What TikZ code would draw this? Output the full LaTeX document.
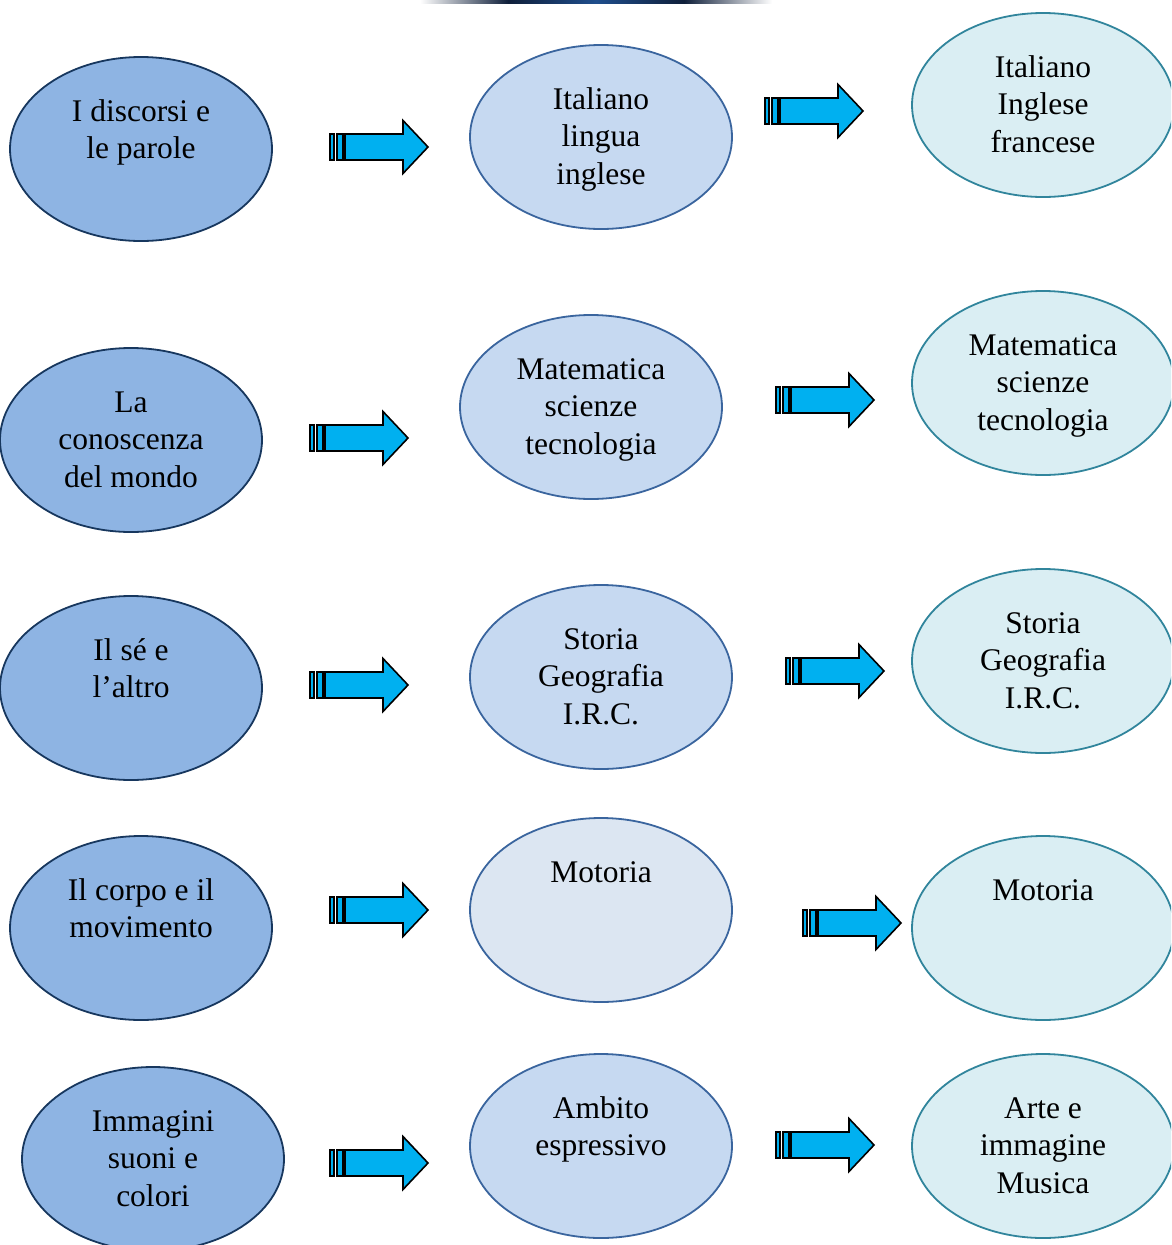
\documentclass[tikz,border=0pt]{standalone}
\usepackage{fontspec}
\setmainfont{Liberation Serif}
\usetikzlibrary{shapes.geometric}
\definecolor{fillA}{HTML}{8EB4E3}
\definecolor{drawA}{HTML}{17375E}
\definecolor{fillB}{HTML}{C6D9F1}
\definecolor{fillBl}{HTML}{DCE6F2}
\definecolor{drawB}{HTML}{3A659E}
\definecolor{fillC}{HTML}{DAEEF3}
\definecolor{drawC}{HTML}{31859C}
\definecolor{arrowfill}{HTML}{00B0F0}
\definecolor{topblue}{HTML}{1F4E8C}
\definecolor{topdark}{HTML}{0F1F3A}
\newcommand\three[3]{\rule{0pt}{30.5pt}#1\\\strut #2\\\strut #3}
\newcommand\stripedarrow[3]{%
  \begin{scope}[shift={(#2,#3)}]
    \draw[arrowline] (0,-13) rectangle (4,13);
    \draw[arrowline] (7,-13) rectangle (13,13);
    \draw[arrowline] (15,-13) -- (73,-13) -- (73,-26.5) -- (98,0) -- (73,26.5) -- (73,13) -- (15,13) -- cycle;
    \coordinate (#1) at (49,0);
  \end{scope}}
\tikzset{
  ell/.style={ellipse, minimum width=262pt, minimum height=184pt, inner sep=0pt,
    align=center, font=\fontsize{31.5}{37.5}\selectfont, line width=1.8pt},
  colA/.style={ell, fill=fillA, draw=drawA},
  colB/.style={ell, fill=fillB, draw=drawB},
  colBl/.style={ell, fill=fillBl, draw=drawB},
  colC/.style={ell, fill=fillC, draw=drawC},
  arrowline/.style={fill=arrowfill, draw=black, line width=1.6pt, line join=miter}
}
\begin{document}
\begin{tikzpicture}[x=1pt,y=-1pt]
\useasboundingbox (0,0) rectangle (1171,1245);
\clip (0,0) rectangle (1171,1245);
\shade[left color=white, right color=topblue, middle color=topdark] (420,0) rectangle (596,3);
\shade[left color=topblue, right color=white, middle color=topdark] (596,0) rectangle (772,3);
% column 1
\node[colA] (a1) at (141,149) {\three{I discorsi e}{le parole}{}};
\node[colA] (a2) at (131,440) {\three{La}{conoscenza}{del mondo}};
\node[colA] (a3) at (131,688) {\three{Il sé e}{l’altro}{}};
\node[colA] (a4) at (141,928) {\three{Il corpo e il}{movimento}{}};
\node[colA] (a5) at (153,1159) {\three{Immagini}{suoni e}{colori}};
% column 2
\node[colB] (b1) at (601,137) {\three{Italiano}{lingua}{inglese}};
\node[colB] (b2) at (591,407) {\three{Matematica}{scienze}{tecnologia}};
\node[colB] (b3) at (601,677) {\three{Storia}{Geografia}{I.R.C.}};
\node[colBl] (b4) at (601,910) {\three{Motoria}{}{}};
\node[colB] (b5) at (601,1146) {\three{Ambito}{espressivo}{}};
% column 3
\node[colC] (c1) at (1043,105) {\three{Italiano}{Inglese}{francese}};
\node[colC] (c2) at (1043,383) {\three{Matematica}{scienze}{tecnologia}};
\node[colC] (c3) at (1043,661) {\three{Storia}{Geografia}{I.R.C.}};
\node[colC] (c4) at (1043,928) {\three{Motoria}{}{}};
\node[colC] (c5) at (1043,1146) {\three{Arte e}{immagine}{Musica}};
% arrows
\stripedarrow{ab1}{330}{147}
\stripedarrow{bc1}{765}{111}
\stripedarrow{ab2}{310}{438}
\stripedarrow{bc2}{776}{400}
\stripedarrow{ab3}{310}{685}
\stripedarrow{bc3}{786}{671}
\stripedarrow{ab4}{330}{910}
\stripedarrow{bc4}{803}{923}
\stripedarrow{ab5}{330}{1163}
\stripedarrow{bc5}{776}{1145}
\end{tikzpicture}
\end{document}
